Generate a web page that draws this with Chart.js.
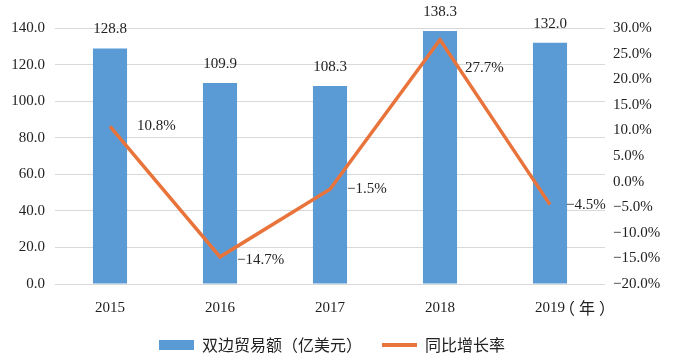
<!DOCTYPE html>
<html><head><meta charset="utf-8">
<script src="https://cdn.jsdelivr.net/npm/chart.js@4"></script>
<style>html,body{margin:0;padding:0;background:#fff}</style>
</head><body>
<canvas id="c" width="675" height="356"></canvas>
<script>
const years = ['2015', '2016', '2017', '2018', '2019'];
const tradeValues = [128.8, 109.9, 108.3, 138.3, 132.0];
const growthRates = [10.8, -14.7, -1.5, 27.7, -4.5];
const leftTickRange = [0, 140, 20];
const rightTickRange = [-20, 30, 5];
const seriesNames = ['双边贸易额（亿美元）', '同比增长率'];
const yearUnit = '（年）';

// styling (label placement relative to line points)
const rateLabelOffsets = [[27, 0], [17, 3], [17, 0], [25, 28], [16, 0]];
const BLUE = '#5B9BD5';
const ORANGE = '#E8743B';
const TEXT = '#222';
const NUMFONT = '"Liberation Serif", "Times New Roman", serif';
const CJKFONT = '"Noto Sans CJK SC", sans-serif';

function pct(v) { return (v < 0 ? '\u2212' : '') + Math.abs(v).toFixed(1) + '%'; }

function icon(w, h, color) {
  const c = document.createElement('canvas');
  c.width = w; c.height = h;
  const g = c.getContext('2d');
  g.fillStyle = color; g.fillRect(0, 0, w, h);
  return c;
}
const barIcon = icon(35, 10, BLUE);
const lineIcon = icon(35, 4, ORANGE);

const labelPlugin = {
  id: 'labels',
  afterDatasetsDraw(chart) {
    const ctx = chart.ctx;
    ctx.save();
    ctx.fillStyle = TEXT;
    ctx.font = '15px ' + NUMFONT;
    ctx.textBaseline = 'middle';
    ctx.textAlign = 'center';
    chart.getDatasetMeta(0).data.forEach((bar, i) => {
      ctx.fillText(tradeValues[i].toFixed(1), bar.x, bar.y - 19);
    });
    ctx.textAlign = 'left';
    chart.getDatasetMeta(1).data.forEach((pt, i) => {
      const o = rateLabelOffsets[i];
      ctx.fillText(pct(growthRates[i]), pt.x + o[0], pt.y + o[1]);
    });
    ctx.restore();
  },
  afterDraw(chart) {
    const ctx = chart.ctx;
    const xs = chart.scales.x;
    const last = xs.getPixelForTick(years.length - 1);
    ctx.save();
    ctx.fillStyle = TEXT;
    ctx.font = '16px ' + CJKFONT;
    ctx.textBaseline = 'middle';
    ctx.textAlign = 'left';
    if ('letterSpacing' in ctx) ctx.letterSpacing = '4px';
    ctx.fillText(yearUnit, last + 9, xs.top + 24);
    ctx.restore();
  }
};

new Chart(document.getElementById('c'), {
  data: {
    labels: years,
    datasets: [
      { type: 'bar', label: seriesNames[0], data: tradeValues, backgroundColor: BLUE,
        yAxisID: 'y', order: 2, categoryPercentage: 1, barPercentage: 0.31 },
      { type: 'line', label: seriesNames[1], data: growthRates, borderColor: ORANGE,
        borderWidth: 3.5, pointRadius: 0, tension: 0, yAxisID: 'y1', order: 1 }
    ]
  },
  options: {
    responsive: false,
    animation: false,
    layout: { padding: { top: 28, left: 0, right: 11, bottom: -7 } },
    plugins: {
      tooltip: { enabled: false },
      legend: {
        position: 'bottom',
        labels: {
          usePointStyle: true,
          pointStyleWidth: 35,
          padding: 20,
          color: TEXT,
          font: { family: CJKFONT, size: 16 },
          generateLabels(chart) {
            return chart.data.datasets.map((ds, i) => ({
              text: ds.label,
              pointStyle: i === 0 ? barIcon : lineIcon,
              fillStyle: i === 0 ? BLUE : ORANGE,
              strokeStyle: 'rgba(0,0,0,0)',
              lineWidth: 0,
              hidden: false,
              datasetIndex: i,
              fontColor: TEXT
            }));
          }
        }
      }
    },
    scales: {
      x: {
        grid: { display: false, drawTicks: false },
        border: { display: false },
        ticks: { color: TEXT, font: { family: NUMFONT, size: 15 }, padding: 15 },
        afterFit(s) { s.height = 33; }
      },
      y: {
        position: 'left',
        min: leftTickRange[0], max: leftTickRange[1],
        grid: { color: '#d9d9d9', drawTicks: false },
        border: { display: false },
        ticks: { stepSize: leftTickRange[2], color: TEXT, font: { family: NUMFONT, size: 15 },
                 padding: 10, callback: v => Number(v).toFixed(1) },
        afterFit(s) { s.width = 55; }
      },
      y1: {
        position: 'right',
        min: rightTickRange[0], max: rightTickRange[1],
        grid: { drawOnChartArea: false, drawTicks: false },
        border: { display: false },
        ticks: { stepSize: rightTickRange[2], color: TEXT, font: { family: NUMFONT, size: 15 },
                 padding: 8, callback: v => pct(v) },
        afterFit(s) { s.width = 59; }
      }
    }
  },
  plugins: [labelPlugin]
});
</script>
</body></html>
